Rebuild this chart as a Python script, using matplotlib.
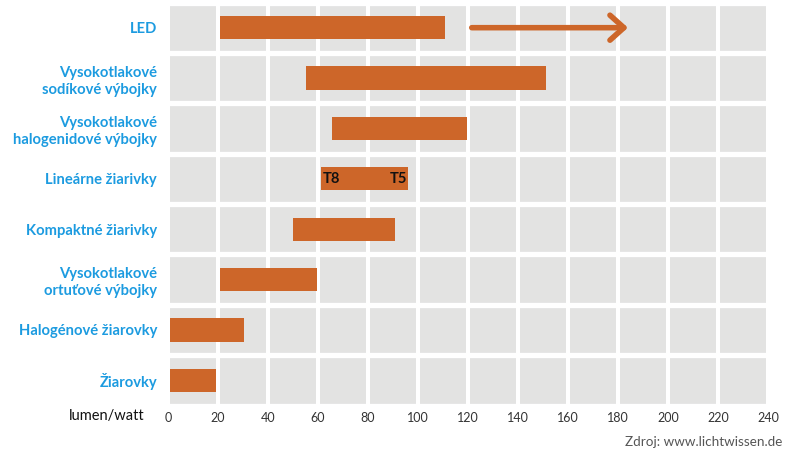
import matplotlib.pyplot as plt

plt.rcParams['font.family'] = ['Lato', 'DejaVu Sans']

# light source categories, top to bottom
labels = ['LED',
          'Vysokotlakové\nsodíkové výbojky',
          'Vysokotlakové\nhalogenidové výbojky',
          'Lineárne žiarivky',
          'Kompaktné žiarivky',
          'Vysokotlakové\nortuťové výbojky',
          'Halogénové žiarovky',
          'Žiarovky']
# efficacy range in lumen/watt
low = [20.8, 55, 65.5, 61, 50, 20.8, 0.8, 0.8]
high = [110.8, 151, 119.5, 96, 90.8, 59.5, 30.4, 19.2]
# LED outlook arrow
arrow_from = 121.5
arrow_to = 184
xticks = list(range(0, 241, 20))

orange = '#CD6629'
blue = '#1C9BE0'
grey = '#E3E3E2'

fig = plt.figure(figsize=(7.87, 4.59), dpi=100)
W, H = 787, 459
ax = fig.add_axes([168 / W, 1 - 405.5 / H, 600 / W, 403 / H])
ax.set_facecolor(grey)

ypos = list(range(len(labels)))
ax.barh(ypos, [h - l for l, h in zip(low, high)], left=low, height=0.46,
        color=orange, zorder=3)

ax.annotate('', xy=(arrow_to, 0), xytext=(arrow_from, 0),
            arrowprops=dict(arrowstyle='->,head_length=0.5,head_width=0.45',
                            color=orange, lw=4, mutation_scale=20,
                            shrinkA=0, shrinkB=0), zorder=4)

# T8 / T5 marks on the linear fluorescent bar
i = labels.index('Lineárne žiarivky')
ax.text(low[i] + 0.8, i, 'T8', ha='left', va='center', fontsize=10.5,
        fontweight='bold', color='#111111', zorder=5)
ax.text(high[i] - 0.5, i, 'T5', ha='right', va='center', fontsize=10.5,
        fontweight='bold', color='#111111', zorder=5)

ax.set_xlim(0, 240)
ax.set_ylim(len(labels) - 0.5, -0.5)

# white gaps between cells
for x in xticks:
    ax.axvline(x, color='white', lw=2.9, zorder=2)
for k in range(len(labels) + 1):
    ax.axhline(k - 0.5, color='white', lw=3.8, zorder=2)

ax.set_xticks(xticks)
ax.set_xticklabels([str(x) for x in xticks], fontsize=9, color='#333333')
ax.set_yticks(ypos)
ax.set_yticklabels(labels, fontsize=10.6, fontweight='bold', color=blue)
for t in ax.get_yticklabels():
    t.set_linespacing(1.3)
ax.tick_params(axis='both', length=0)
ax.tick_params(axis='y', pad=8)
ax.tick_params(axis='x', pad=5)
for s in ax.spines.values():
    s.set_visible(False)

fig.text(145 / W, 1 - 416 / H, 'lumen/watt', ha='right', va='center',
         fontsize=10.5, color='#111111')
fig.text(782 / W, 1 - 442 / H, 'Zdroj: www.lichtwissen.de', ha='right',
         va='center', fontsize=9.7, color='#555555')

fig.savefig('out.png', dpi=100)
